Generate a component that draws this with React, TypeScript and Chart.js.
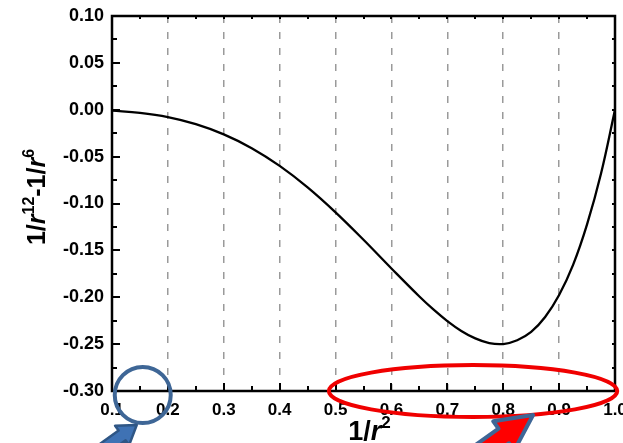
import React, { useEffect, useRef } from "react";
import { Chart, registerables } from "chart.js";

Chart.register(...registerables);

// 1/r^2 values
const xValues = [0.1, 0.15, 0.2, 0.25, 0.3, 0.35, 0.4, 0.45, 0.5, 0.55, 0.6, 0.65, 0.675, 0.7, 0.725, 0.75, 0.775, 0.8, 0.825, 0.85, 0.875, 0.9, 0.925, 0.95, 0.975, 1.0];
// 1/r^12 - 1/r^6 values
const yValues = [-0.001, -0.0034, -0.0079, -0.0154, -0.0263, -0.041, -0.0599, -0.0828, -0.1094, -0.1387, -0.1693, -0.1992, -0.213, -0.2254, -0.2359, -0.2439, -0.2489, -0.2499, -0.2459, -0.237, -0.2211, -0.1976, -0.1655, -0.1223, -0.068, 0.0];

const xMin = 0.1, xMax = 1.0, xStep = 0.1;
const yMin = -0.3, yMax = 0.1, yStep = 0.05;
const dashedGridValues = [0.2, 0.3, 0.4, 0.5, 0.6, 0.7, 0.8, 0.9];

const FONT = "'Liberation Sans', Arial, sans-serif";

function drawRich(ctx: CanvasRenderingContext2D, parts: { t: string; it?: boolean; sup?: boolean }[], cx: number, baseline: number, size: number) {
  const supSize = Math.round(size * 0.64);
  const fontFor = (p: any) => `${p.it ? "italic " : ""}bold ${p.sup ? supSize : size}px ${FONT}`;
  let total = 0;
  const widths = parts.map((p) => {
    ctx.font = fontFor(p);
    const w = ctx.measureText(p.t).width;
    total += w;
    return w;
  });
  let x = cx - total / 2;
  ctx.textAlign = "left";
  ctx.textBaseline = "alphabetic";
  parts.forEach((p, i) => {
    ctx.font = fontFor(p);
    ctx.fillText(p.t, x, p.sup ? baseline - size * 0.45 : baseline);
    x += widths[i];
  });
}

function drawArrow(ctx: CanvasRenderingContext2D, tx: number, ty: number, ang: number, L: number, hl: number, hw: number, sw: number, fill: string, stroke: string, lw: number) {
  const dx = Math.cos(ang), dy = Math.sin(ang);
  const nx = -dy, ny = dx;
  const bx = tx - dx * hl, by = ty - dy * hl;
  const ex = tx - dx * L, ey = ty - dy * L;
  ctx.beginPath();
  ctx.moveTo(tx, ty);
  ctx.lineTo(bx + nx * hw, by + ny * hw);
  ctx.lineTo(bx + nx * sw, by + ny * sw);
  ctx.lineTo(ex + nx * sw, ey + ny * sw);
  ctx.lineTo(ex - nx * sw, ey - ny * sw);
  ctx.lineTo(bx - nx * sw, by - ny * sw);
  ctx.lineTo(bx - nx * hw, by - ny * hw);
  ctx.closePath();
  ctx.fillStyle = fill;
  ctx.fill();
  ctx.strokeStyle = stroke;
  ctx.lineWidth = lw;
  ctx.lineJoin = "round";
  ctx.stroke();
}

const framePlugin = {
  id: "framePlugin",
  afterDraw(chart: any) {
    const ctx = chart.ctx as CanvasRenderingContext2D;
    const { left, right, top, bottom } = chart.chartArea;
    const xs = chart.scales.x, ys = chart.scales.y;
    ctx.save();
    ctx.strokeStyle = "#000";
    // ticks
    ctx.lineWidth = 2;
    for (let i = 0; i <= Math.round((xMax - xMin) / (xStep / 2)); i++) {
      const v = xMin + i * xStep / 2;
      const px = Math.round(xs.getPixelForValue(v));
      const major = i % 2 === 0;
      ctx.beginPath();
      ctx.moveTo(px, bottom);
      ctx.lineTo(px, bottom - (major ? 8 : 5));
      ctx.stroke();
      ctx.beginPath();
      ctx.moveTo(px, top);
      ctx.lineTo(px, top + 3);
      ctx.stroke();
    }
    for (let i = 0; i <= Math.round((yMax - yMin) / (yStep / 2)); i++) {
      const v = yMin + i * yStep / 2;
      const py = Math.round(ys.getPixelForValue(v));
      const major = i % 2 === 0;
      ctx.beginPath();
      ctx.moveTo(left, py);
      ctx.lineTo(left + (major ? 8 : 5), py);
      ctx.stroke();
      ctx.beginPath();
      ctx.moveTo(right, py);
      ctx.lineTo(right - 3, py);
      ctx.stroke();
    }
    // frame
    ctx.lineWidth = 2.5;
    ctx.strokeRect(left, top, right - left, bottom - top);

    // axis titles
    ctx.fillStyle = "#000";
    drawRich(ctx, [{ t: "1/" }, { t: "r", it: true }, { t: "2", sup: true }], (left + right) / 2 + 6, 440, 27);
    ctx.save();
    ctx.translate(45, 197);
    ctx.rotate(-Math.PI / 2);
    drawRich(ctx, [{ t: "1/" }, { t: "r", it: true }, { t: "12", sup: true }, { t: "-1/" }, { t: "r", it: true }, { t: "6", sup: true }], 0, 0, 25);
    ctx.restore();

    // annotations
    const cx = xs.getPixelForValue(0.155), cy = ys.getPixelForValue(-0.3) + 4;
    ctx.strokeStyle = "#3e6696";
    ctx.lineWidth = 4;
    ctx.beginPath();
    ctx.arc(cx, cy, 28, 0, Math.PI * 2);
    ctx.stroke();

    const ex = xs.getPixelForValue(0.746), ey = ys.getPixelForValue(-0.3);
    const erx = xs.getPixelForValue(0.746 + 0.258) - ex;
    ctx.strokeStyle = "#f00000";
    ctx.lineWidth = 4;
    ctx.beginPath();
    ctx.ellipse(ex, ey, erx, 26, 0, 0, Math.PI * 2);
    ctx.stroke();

    drawArrow(ctx, cx - 6, cy + 30, -0.62, 55, 18, 12, 6, "#3f72b4", "#2f5685", 2.5);
    drawArrow(ctx, ex + 60, ey + 24, -0.62, 80, 36, 18, 9, "#ff0000", "#3e6696", 4);
    ctx.restore();
  },
};

export default function App() {
  const ref = useRef<HTMLCanvasElement>(null);
  useEffect(() => {
    if (!ref.current) return;
    const data = xValues.map((x, i) => ({ x, y: yValues[i] }));
    const chart = new Chart(ref.current, {
      type: "line",
      data: {
        datasets: [
          {
            data,
            borderColor: "#000",
            borderWidth: 2.3,
            pointRadius: 0,
            tension: 0.4,
            fill: false,
          },
        ],
      },
      options: {
        animation: false,
        responsive: false,
        layout: { padding: { top: 16, right: 8, left: 0, bottom: 0 } },
        plugins: { legend: { display: false }, tooltip: { enabled: false } },
        scales: {
          x: {
            type: "linear",
            min: xMin,
            max: xMax,
            border: { display: false, dash: [7, 9] },
            afterFit: (s: any) => {
              s.height = 52;
              s.paddingLeft = 0;
              s.paddingRight = 0;
            },
            ticks: {
              stepSize: xStep,
              color: "#000",
              padding: 9,
              maxRotation: 0,
              font: { family: FONT, size: 17, weight: "bold" },
              callback: (v: any) => Number(v).toFixed(1),
            },
            grid: {
              drawTicks: false,
              lineWidth: 1.5,
              color: (c: any) =>
                c.tick && dashedGridValues.some((g) => Math.abs(g - c.tick.value) < 1e-6) ? "#9a9a9a" : "rgba(0,0,0,0)",
            },
          },
          y: {
            min: yMin,
            max: yMax,
            border: { display: false },
            afterFit: (s: any) => {
              s.width = 112;
              s.paddingTop = 0;
              s.paddingBottom = 0;
            },
            ticks: {
              stepSize: yStep,
              color: "#000",
              padding: 8,
              font: { family: FONT, size: 18, weight: "bold" },
              callback: (v: any) => Number(v).toFixed(2),
            },
            grid: { display: false, drawTicks: false },
          },
        },
      },
      plugins: [framePlugin],
    } as any);
    return () => chart.destroy();
  }, []);
  return (
    <div style={{ position: "fixed", left: 0, top: 0, width: 623, height: 443, background: "#fff" }}>
      <canvas ref={ref} width={623} height={443} style={{ display: "block" }} />
    </div>
  );
}
